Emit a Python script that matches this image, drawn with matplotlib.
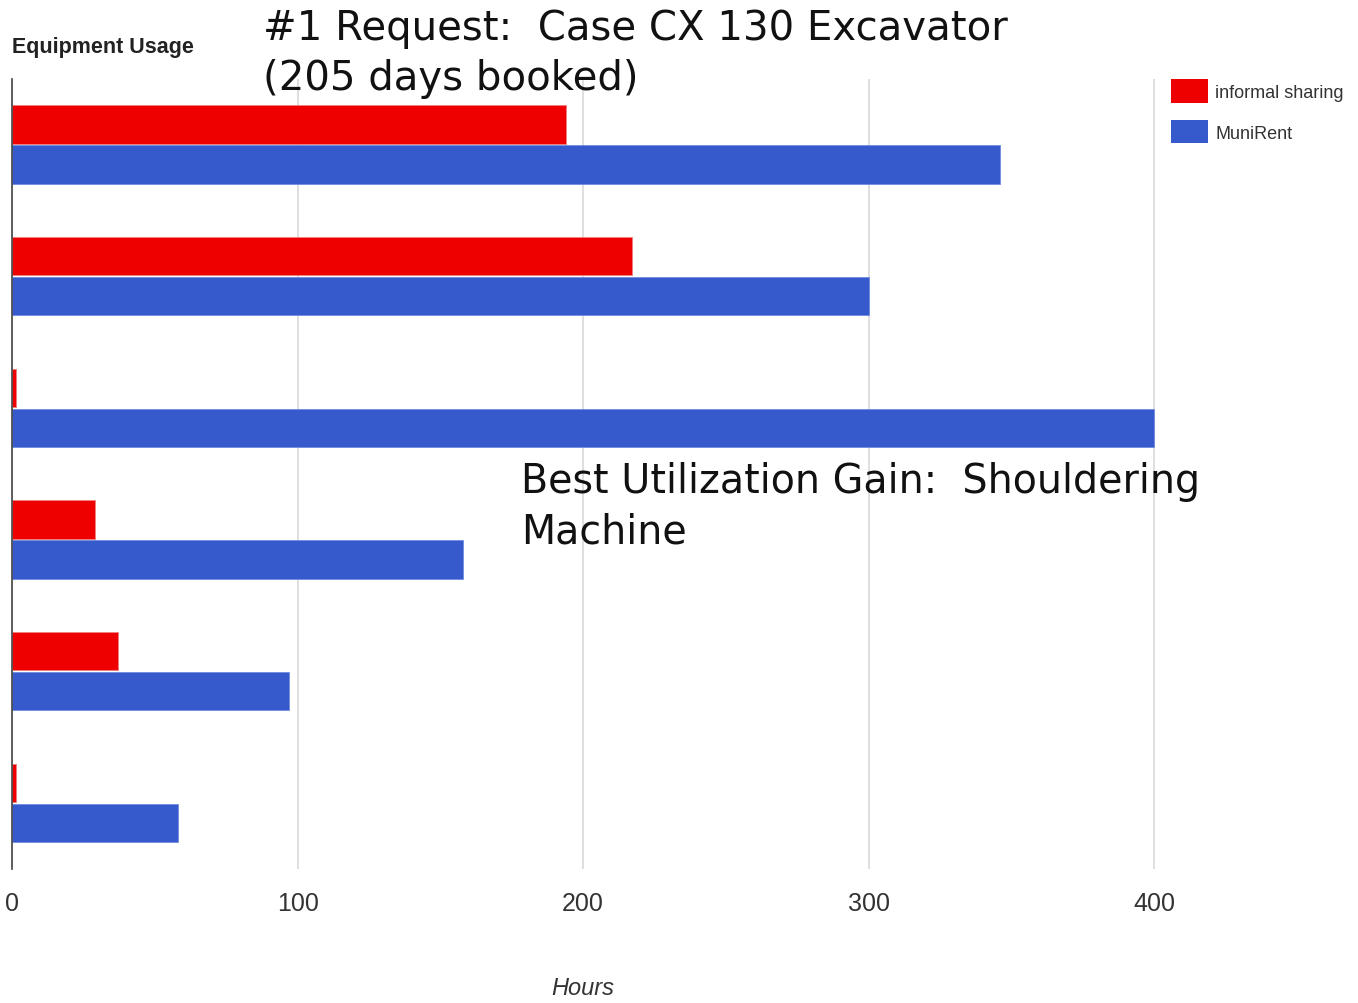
import matplotlib
matplotlib.use("Agg")
import matplotlib.pyplot as plt
import numpy as np

# Data (top to bottom)
categories = ["Item 1", "Item 2", "Item 3", "Item 4", "Item 5", "Item 6"]
informal_sharing = [194, 217, 1.5, 29, 37, 1.5]
munirent = [346, 300, 400, 158, 97, 58]
xticks = [0, 100, 200, 300, 400]
series_names = ["informal sharing", "MuniRent"]

RED = "#ee0000"
BLUE = "#3659cc"
NARROW = ["Liberation Sans Narrow", "Liberation Sans", "DejaVu Sans"]

fig = plt.figure(figsize=(13.58, 10.04), dpi=100)
W, H = 1358, 1004
left, right, top, bottom = 12, 1160, 80, 870
ax = fig.add_axes([left / W, 1 - bottom / H, (right - left) / W, (bottom - top) / H])

y = np.arange(len(categories))
h = 0.29
ax.barh(y - 0.155, informal_sharing, height=h, color=RED, edgecolor="#f08080",
        linewidth=0.6, label=series_names[0], zorder=3)
ax.barh(y + 0.15, munirent, height=h, color=BLUE, edgecolor="#6f8ce0",
        linewidth=0.6, label=series_names[1], zorder=3)

ax.set_ylim(len(categories) - 0.5, -0.5)
ax.set_xlim(0, 402)
ax.set_yticks([])
ax.set_xticks(xticks)
ax.set_xticklabels([str(t) for t in xticks], family=NARROW, fontsize=18, color="#333333")
ax.tick_params(axis="x", length=0, pad=16)
ax.grid(axis="x", color="#d9d9d9", linewidth=1.2, zorder=0)
for s in ["top", "right", "bottom"]:
    ax.spines[s].set_visible(False)
ax.spines["left"].set_color("#444444")
ax.spines["left"].set_linewidth(1.2)
ax.spines["left"].set_zorder(4)

fig.text(583 / W, 1 - 989 / H, "Hours", family=NARROW, style="italic", fontsize=17,
         color="#333333", va="center", ha="center")

fig.text(12 / W, 1 - 47 / H, "Equipment Usage", family=NARROW, weight="bold",
         fontsize=15.5, color="#222222", va="center", ha="left")

leg = fig.legend(loc="upper left", bbox_to_anchor=(1171 / W, 1 - 80 / H),
                 frameon=False, prop={"family": NARROW, "size": 13},
                 handlelength=2.05, handleheight=1.64, handletextpad=0.4,
                 labelspacing=0.95, labelcolor="#333333", borderaxespad=0,
                 borderpad=0)
for hnd in leg.legend_handles:
    hnd.set_linewidth(0)

fig.text(263 / W, 1 - 54 / H, "#1 Request:  Case CX 130 Excavator\n(205 days booked)",
         family="DejaVu Sans", fontsize=29, color="#111111", va="center", ha="left",
         linespacing=1.35)
fig.text(521 / W, 1 - 507 / H, "Best Utilization Gain:  Shouldering\nMachine",
         family="DejaVu Sans", fontsize=28.5, color="#111111", va="center", ha="left",
         linespacing=1.35)

fig.savefig("out.png", dpi=100, facecolor="white")
